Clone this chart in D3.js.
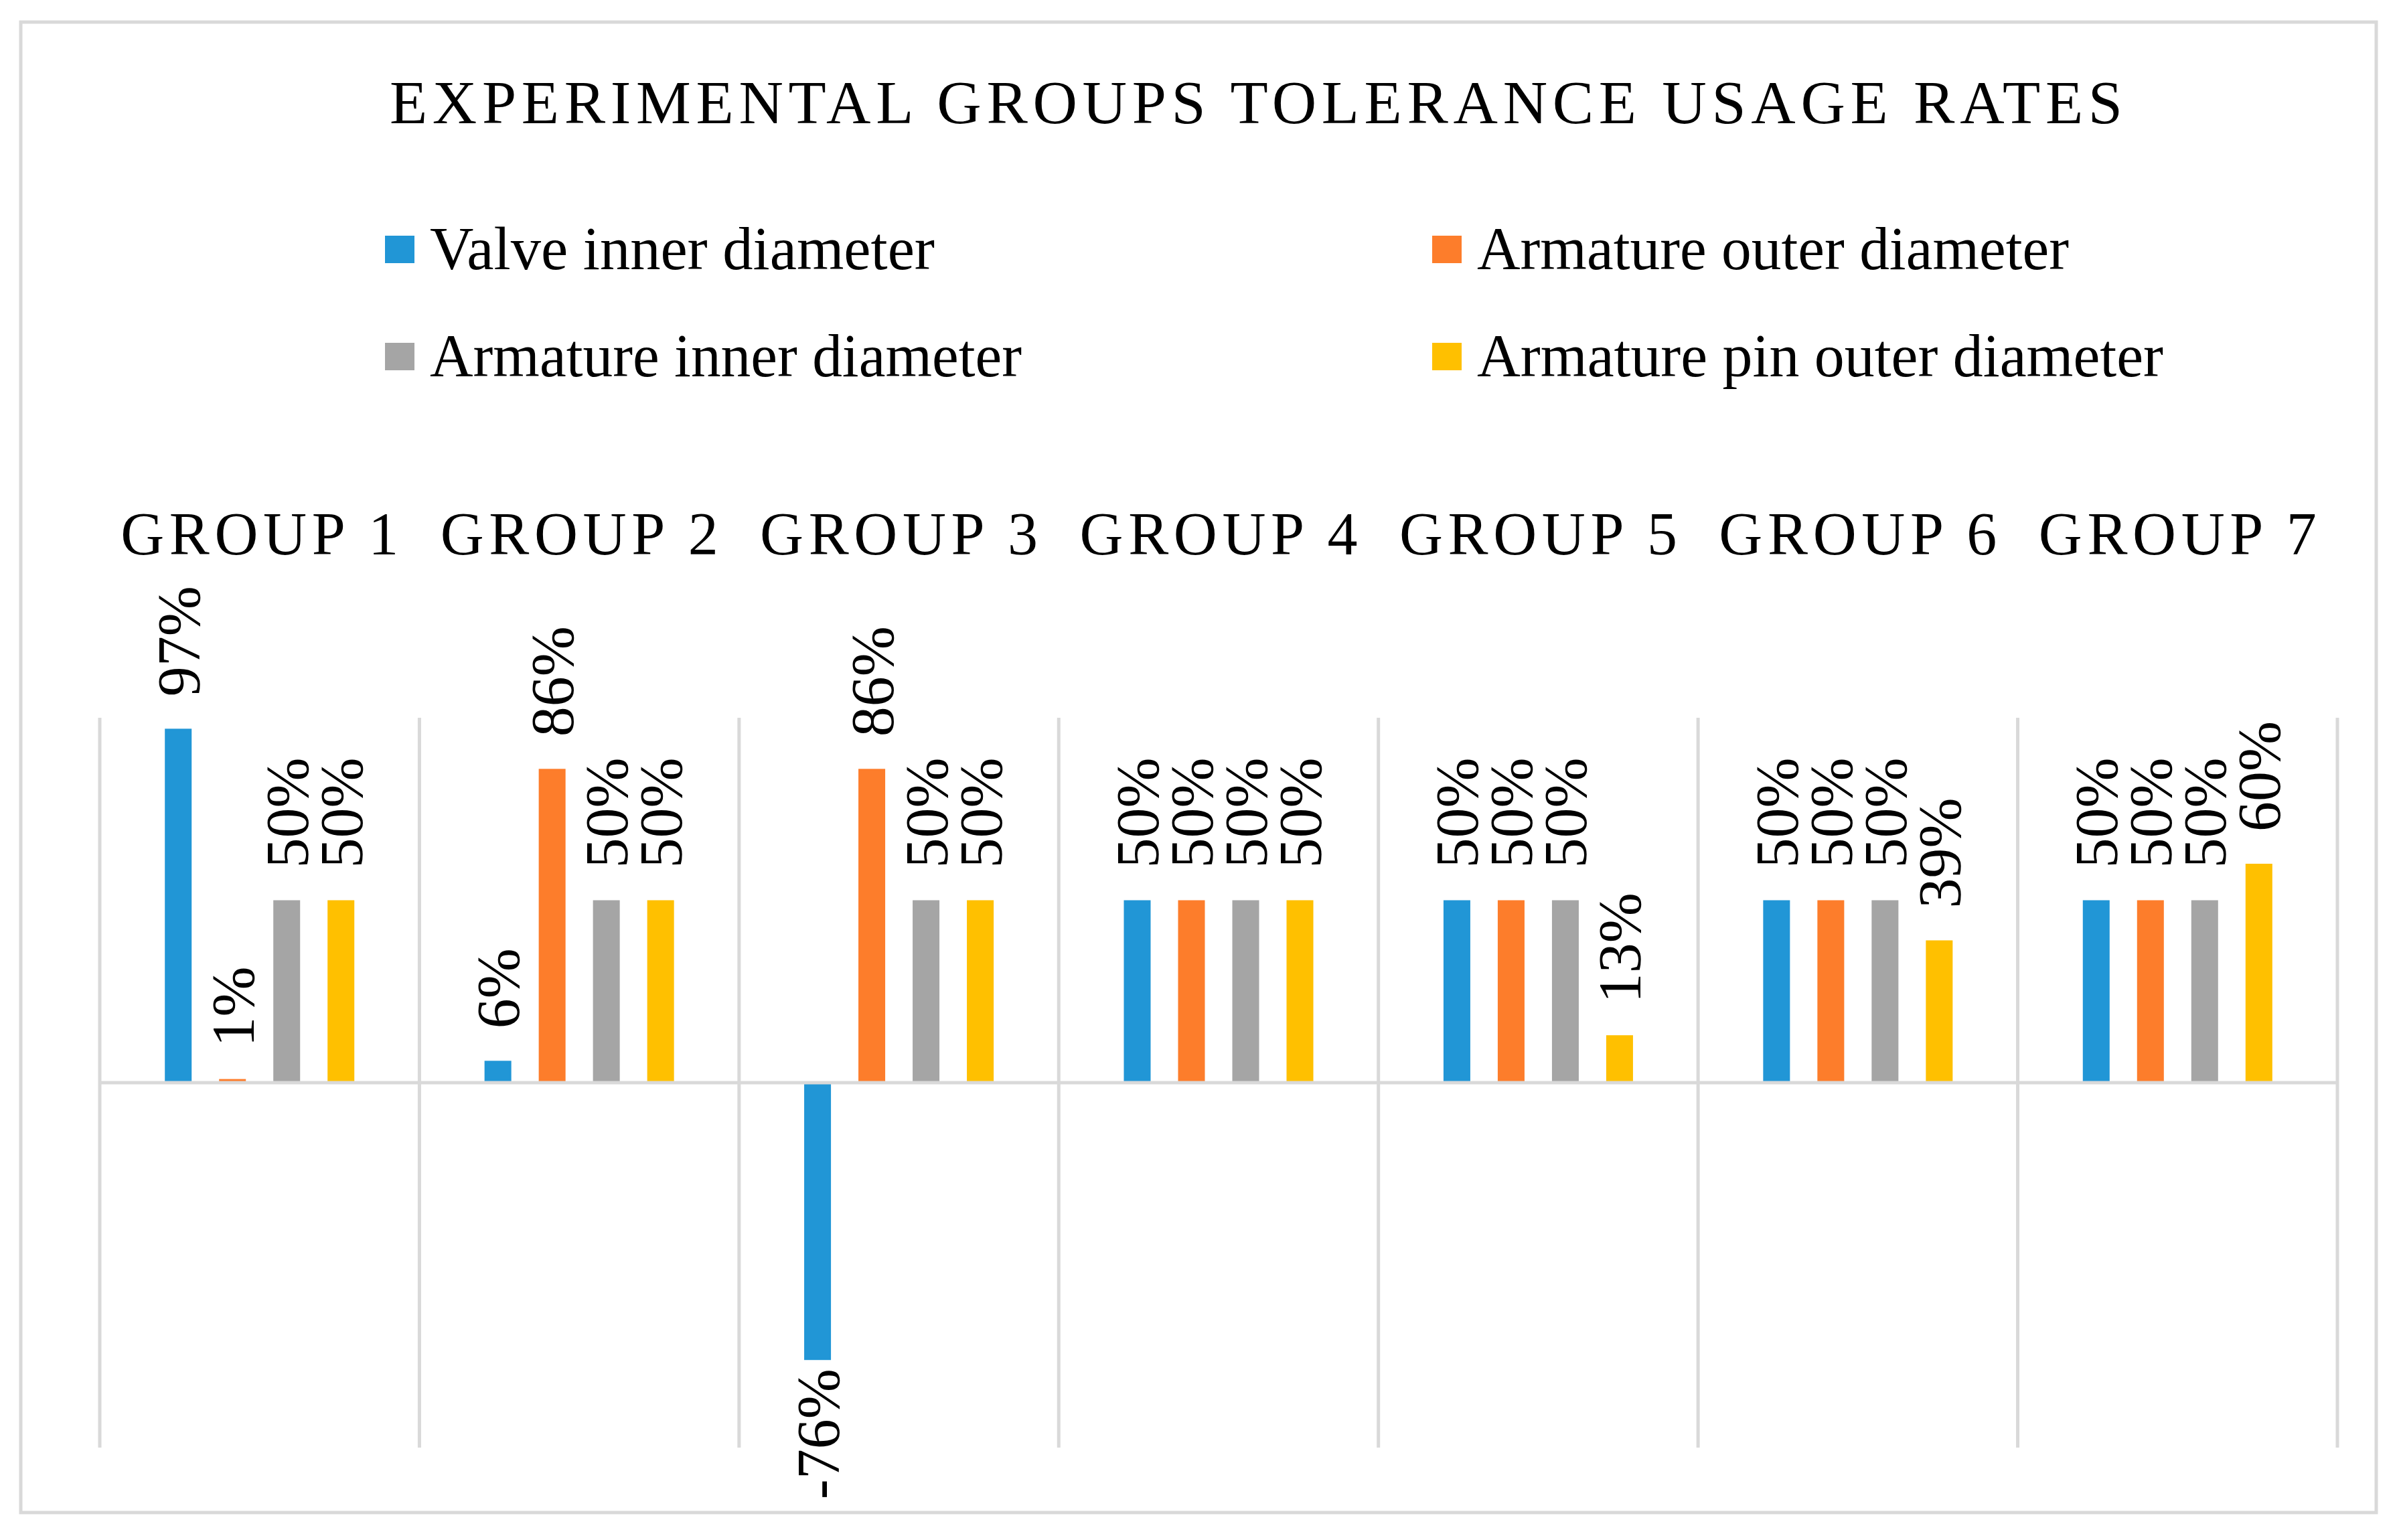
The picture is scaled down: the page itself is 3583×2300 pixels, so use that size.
<!DOCTYPE html>
<meta charset="utf-8">
<script src="https://d3js.org/d3.v7.min.js"></script>
<style>
body { margin: 0; background: #fff; }
text { font-family: "Liberation Serif", "Times New Roman", serif; fill: #000; }
.grid line { stroke: #d9d9d9; stroke-width: 5; }
</style>
<body>
<script>
// chart data
var groups = ["GROUP 1", "GROUP 2", "GROUP 3", "GROUP 4", "GROUP 5", "GROUP 6", "GROUP 7"];
var seriesNames = ["Valve inner diameter", "Armature outer diameter", "Armature inner diameter", "Armature pin outer diameter"];
var valveInner = [0.97, 0.06, -0.76, 0.50, 0.50, 0.50, 0.50];
var armatureOuter = [0.01, 0.86, 0.86, 0.50, 0.50, 0.50, 0.50];
var armatureInner = [0.50, 0.50, 0.50, 0.50, 0.50, 0.50, 0.50];
var pinOuter = [0.50, 0.50, 0.50, 0.50, 0.13, 0.39, 0.60];
var colors = ["#2196d6", "#fd7d2b", "#a5a5a5", "#ffc000"];
var title = "EXPERIMENTAL GROUPS TOLERANCE USAGE RATES";

var width = 3583, height = 2300;
var seriesValues = [valveInner, armatureOuter, armatureInner, pinOuter];

var svg = d3.select("body").append("svg")
    .attr("width", width)
    .attr("height", height);

svg.append("rect")
    .attr("x", 31).attr("y", 33)
    .attr("width", 3518).attr("height", 2226)
    .attr("fill", "#fff")
    .attr("stroke", "#d9d9d9")
    .attr("stroke-width", 5);

// title
svg.append("text")
    .attr("x", 582).attr("y", 184)
    .attr("font-size", 92)
    .attr("textLength", 2588)
    .attr("lengthAdjust", "spacing")
    .text(title);

// legend, 2 columns
var legendPos = [[575, 352], [2139, 352], [575, 512], [2139, 512]];
var legendLen = [754, 884, 884, 1025];
var leg = svg.selectAll("g.legend")
    .data(seriesNames)
    .enter().append("g")
    .attr("class", "legend")
    .attr("transform", function(d, i) { return "translate(" + legendPos[i][0] + "," + legendPos[i][1] + ")"; });
leg.append("rect")
    .attr("width", 44).attr("height", 41)
    .attr("fill", function(d, i) { return colors[i]; });
leg.append("text")
    .attr("x", 67).attr("y", 50)
    .attr("font-size", 92)
    .attr("textLength", function(d, i) { return legendLen[i]; })
    .attr("lengthAdjust", "spacingAndGlyphs")
    .text(function(d) { return d; });

// scales
var x0 = d3.scaleBand().domain(groups).range([149, 3491]).padding(0);
var x1 = d3.scaleBand().domain(d3.range(seriesNames.length))
    .range([0, x0.bandwidth()])
    .paddingInner(0.506).paddingOuter(1.2);
var y = d3.scaleLinear().domain([-1, 1]).range([2162, 1072]);

// vertical separators between groups
var grid = svg.append("g").attr("class", "grid");
grid.selectAll("line.sep")
    .data(groups.concat(["end"]))
    .enter().append("line")
    .attr("class", "sep")
    .attr("x1", function(d, i) { return x0.range()[0] + i * x0.step(); })
    .attr("x2", function(d, i) { return x0.range()[0] + i * x0.step(); })
    .attr("y1", y(1)).attr("y2", y(-1));

// group labels on top
svg.selectAll("text.group")
    .data(groups)
    .enter().append("text")
    .attr("class", "group")
    .attr("x", function(d) { return x0(d) + x0.bandwidth() / 2; })
    .attr("y", 828)
    .attr("text-anchor", "middle")
    .attr("font-size", 90)
    .attr("textLength", 415)
    .attr("lengthAdjust", "spacing")
    .text(function(d) { return d; });

// bars
var g = svg.selectAll("g.grp")
    .data(groups)
    .enter().append("g")
    .attr("class", "grp")
    .attr("transform", function(d) { return "translate(" + x0(d) + ",0)"; });

var cells = g.selectAll("g.cell")
    .data(function(d, gi) { return seriesValues.map(function(s, si) { return {s: si, v: s[gi]}; }); })
    .enter().append("g")
    .attr("class", "cell");

cells.append("rect")
    .attr("x", function(d) { return x1(d.s); })
    .attr("width", x1.bandwidth())
    .attr("y", function(d) { return y(Math.max(0, d.v)); })
    .attr("height", function(d) { return Math.abs(y(d.v) - y(0)); })
    .attr("fill", function(d) { return colors[d.s]; });

cells.append("text")
    .attr("transform", function(d) {
        return "translate(" + (x1(d.s) + x1.bandwidth() / 2) + "," + y(d.v) + ") rotate(-90)";
    })
    .attr("x", function(d) { return d.v < 0 ? -13 : 48; })
    .attr("dy", "0.35em")
    .attr("text-anchor", function(d) { return d.v < 0 ? "end" : "start"; })
    .attr("font-size", 90)
    .text(function(d) { return Math.round(d.v * 100) + "%"; });

// zero line
svg.append("line")
    .attr("x1", 149).attr("x2", 3491)
    .attr("y1", y(0)).attr("y2", y(0))
    .attr("stroke", "#d9d9d9")
    .attr("stroke-width", 5);
</script>
</body>
